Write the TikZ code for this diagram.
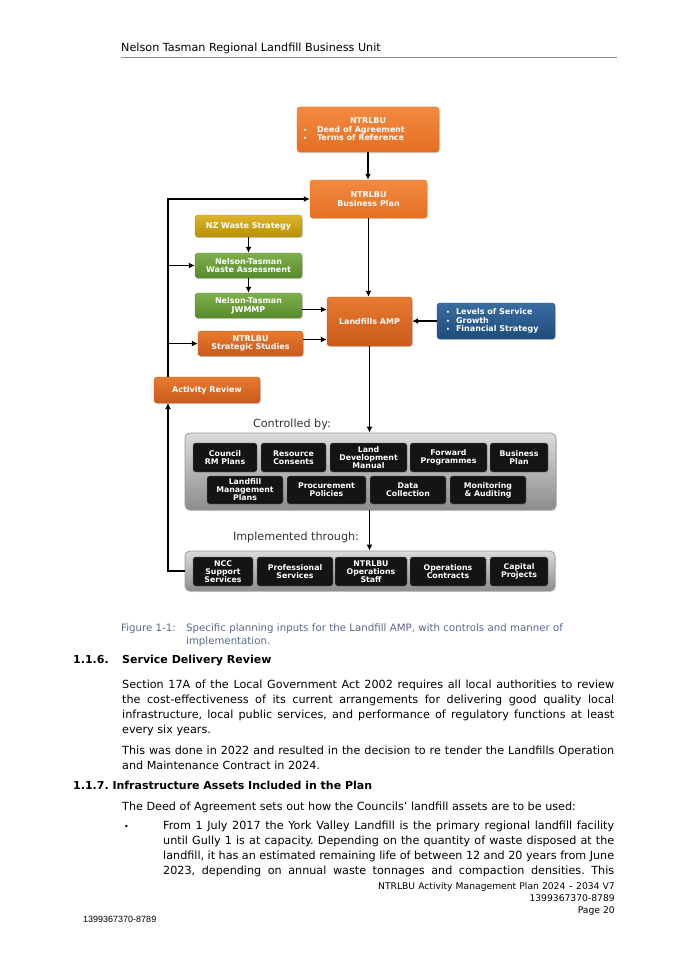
\documentclass[tikz,border=0pt]{standalone}
\usepackage{fontspec}
\setmainfont{DejaVu Sans}
\newfontfamily\arialfont{Liberation Sans}
\usepackage{xcolor}
\usetikzlibrary{arrows.meta}
\usetikzlibrary{shadows}
\usetikzlibrary{positioning}
\frenchspacing
\definecolor{OrangeTop}{HTML}{F28A40}
\definecolor{OrangeBot}{HTML}{E46F22}
\definecolor{RustTop}{HTML}{E87A30}
\definecolor{RustBot}{HTML}{C95A1A}
\definecolor{GoldTop}{HTML}{DDB52A}
\definecolor{GoldBot}{HTML}{B98F05}
\definecolor{GreenTop}{HTML}{80AE4C}
\definecolor{GreenBot}{HTML}{568A2C}
\definecolor{NavyTop}{HTML}{3A6DA0}
\definecolor{NavyBot}{HTML}{1F4C7A}
\definecolor{CaptionBlue}{HTML}{56698A}
\newcommand{\MyDot}[1]{\makebox[#1][l]{\fontsize{6}{6}\selectfont\textbullet}}
\tikzset{
  MyBox/.style={
    rectangle, rounded corners=3pt,
    align=center, inner sep=1pt,
    text=white, font=\fontsize{8}{8.6}\selectfont\bfseries,
    drop shadow={shadow xshift=0.8pt, shadow yshift=-1.2pt, opacity=0.35},
  },
  MyOrange/.style={MyBox, top color=OrangeTop, bottom color=OrangeBot, draw=OrangeBot},
  MyRust/.style={MyBox, top color=RustTop, bottom color=RustBot, draw=RustBot},
  MyGold/.style={MyBox, top color=GoldTop, bottom color=GoldBot, draw=GoldBot},
  MyGreen/.style={MyBox, top color=GreenTop, bottom color=GreenBot, draw=GreenBot},
  MyNavy/.style={MyBox, top color=NavyTop, bottom color=NavyBot, draw=NavyBot},
  MyBlack/.style={
    rectangle, rounded corners=2.5pt,
    align=center, inner sep=1pt,
    fill=black!92, draw=black!55,
    text=white, font=\fontsize{7.8}{8}\selectfont\bfseries,
  },
  MyPanel/.style={
    rectangle, rounded corners=5pt,
    top color=black!14, bottom color=black!45, draw=black!40, line width=0.8pt,
    drop shadow={shadow xshift=0.8pt, shadow yshift=-1.2pt, opacity=0.3},
  },
  MyArrow/.style={-{Latex[length=6pt,width=6pt]}, line width=1.5pt},
  MyText/.style={inner sep=0pt, font=\fontsize{11.2}{15}\selectfont},
}
\begin{document}
\begin{tikzpicture}[x=1pt,y=-1pt]
\useasboundingbox (0,0) rectangle (675,955);
\fill[white] (0,0) rectangle (675,955);
% page header
\node[MyText, anchor=base west] (HEAD) at (121,52) {Nelson Tasman Regional Landfill Business Unit};
\draw[black!45, line width=0.8pt] (121,57.5) -- (617,57.5);
% planning inputs
\node[MyOrange, minimum width=142pt, minimum height=45pt] (DEED) at (368,129.5) {NTRLBU\\\makebox[130pt][l]{\MyDot{14pt}Deed of Agreement}\\\makebox[130pt][l]{\MyDot{14pt}Terms of Reference}};
\node[MyOrange, minimum width=117pt, minimum height=38pt] (BP) at (368.5,199) {NTRLBU\\Business Plan};
\node[MyGold, minimum width=107pt, minimum height=22pt] (NZWS) at (248.5,226) {NZ Waste Strategy};
\node[MyGreen, minimum width=107pt, minimum height=25pt] (NTWA) at (248.5,265.5) {Nelson-Tasman\\Waste Assessment};
\node[MyGreen, minimum width=107pt, minimum height=25pt] (JWMMP) at (248.5,305.5) {Nelson-Tasman\\JWMMP};
\node[MyRust, minimum width=105pt, minimum height=25pt] (STUD) at (250.5,343.5) {NTRLBU\\Strategic Studies};
\node[MyRust, minimum width=85pt, minimum height=49pt] (AMP) at (369.5,321.5) {Landfills AMP};
\node[MyNavy, minimum width=118pt, minimum height=36pt] (LOS) at (496,321) {\makebox[100pt][l]{\MyDot{10pt}Levels of Service}\\\makebox[100pt][l]{\MyDot{10pt}Growth}\\\makebox[100pt][l]{\MyDot{10pt}Financial Strategy}};
\node[MyRust, minimum width=106pt, minimum height=26pt] (REVIEW) at (207,390) {Activity Review};
% controls
\node[text=black!80, font=\fontsize{11.2}{13}\selectfont, inner sep=0pt] (CTRLTXT) at (292,424) {Controlled by:};
\node[MyPanel, minimum width=371pt, minimum height=77pt] (CTRL) at (370.5,471.5) {};
\node[MyBlack, minimum width=64pt, minimum height=29pt] (RMP) at (225,457.5) {Council\\RM Plans};
\node[MyBlack, minimum width=65pt, minimum height=29pt] (RC) at (293.5,457.5) {Resource\\Consents};
\node[MyBlack, minimum width=77pt, minimum height=29pt] (LDM) at (368.5,457.5) {Land\\Development\\Manual};
\node[MyBlack, minimum width=77pt, minimum height=29pt] (FP) at (448.5,457.5) {Forward\\Programmes};
\node[MyBlack, minimum width=58pt, minimum height=29pt] (BPL) at (519,457.5) {Business\\Plan};
\node[MyBlack, minimum width=76pt, minimum height=28pt] (LMP) at (245,490) {Landfill\\Management\\Plans};
\node[MyBlack, minimum width=79pt, minimum height=28pt] (PP) at (326.5,490) {Procurement\\Policies};
\node[MyBlack, minimum width=76pt, minimum height=28pt] (DC) at (408,490) {Data\\Collection};
\node[MyBlack, minimum width=76pt, minimum height=28pt] (MA) at (488,490) {Monitoring\\\& Auditing};
% implementation
\node[text=black!80, font=\fontsize{11.2}{13}\selectfont, inner sep=0pt] (IMPLTXT) at (296,537) {Implemented through:};
\node[MyPanel, minimum width=370pt, minimum height=40pt] (IMPL) at (370,571) {};
\node[MyBlack, minimum width=60pt, minimum height=29pt] (NCC) at (223,571.5) {NCC\\Support\\Services};
\node[MyBlack, minimum width=76pt, minimum height=29pt] (PS) at (295,571.5) {Professional\\Services};
\node[MyBlack, minimum width=72pt, minimum height=29pt] (OS) at (371,571.5) {NTRLBU\\Operations\\Staff};
\node[MyBlack, minimum width=76pt, minimum height=29pt] (OC) at (448,571.5) {Operations\\Contracts};
\node[MyBlack, minimum width=58pt, minimum height=29pt] (CP) at (519,571.5) {Capital\\Projects};
% connectors
\coordinate (LB) at (168,571);
\coordinate (LT) at (168,199);
\draw[MyArrow] (DEED.south) to (DEED.south |- BP.north);
\draw[MyArrow] (BP.south) to (BP.south |- AMP.north);
\draw[MyArrow] (NZWS) to (NTWA);
\draw[MyArrow] (NTWA) to (JWMMP);
\draw[MyArrow] ([yshift=-4pt]JWMMP.east) to ([yshift=-4pt]JWMMP.east -| AMP.west);
\draw[MyArrow] ([yshift=4pt]STUD.east) to ([yshift=4pt]STUD.east -| AMP.west);
\draw[MyArrow] (LOS.west) to (LOS.west -| AMP.east);
\draw[MyArrow] (AMP.south) to (AMP.south |- CTRL.north);
\draw[MyArrow] (CTRL.south -| AMP) to (AMP |- IMPL.north);
\draw[MyArrow] (IMPL.west) -- (LB) -- (LB |- REVIEW.south);
\draw[MyArrow] (LB |- REVIEW.north) -- (LT) -- (BP.west);
\draw[MyArrow] (LT |- NTWA.west) to (NTWA.west);
\draw[MyArrow] (LT |- STUD.west) to (STUD.west);
% caption
\node[inner sep=0pt, anchor=base west, text width=492pt, align=left, text=CaptionBlue, font=\fontsize{10.2}{12.5}\selectfont] (CAP) at (121,631.5) {\makebox[65pt][l]{Figure 1-1:}Specific planning inputs for the Landfill AMP, with controls and manner of\\\hspace*{65pt}implementation.};
% body text
\node[MyText, anchor=base west, font=\fontsize{11}{13}\selectfont\bfseries] (H116) at (73,663) {\makebox[49pt][l]{1.1.6.}Service Delivery Review};
\node[MyText, anchor=base west, text width=492pt, align=justify] (PARA1) at (122,688) {Section 17A of the Local Government Act 2002 requires all local authorities to review\linebreak the cost-effectiveness of its current arrangements for delivering good quality local\linebreak infrastructure, local public services, and performance of regulatory functions at least\linebreak every six years.};
\node[MyText, anchor=base west, text width=492pt, align=justify] (PARA2) at (122,754) {This was done in 2022 and resulted in the decision to re tender the Landfills Operation\linebreak and Maintenance Contract in 2024.};
\node[MyText, anchor=base west, font=\fontsize{11}{13}\selectfont\bfseries] (H117) at (73,789) {1.1.7. Infrastructure Assets Included in the Plan};
\node[MyText, anchor=base west] (DEEDTXT) at (122,810) {The Deed of Agreement sets out how the Councils’ landfill assets are to be used:};
\node[inner sep=0pt, anchor=base west, font=\fontsize{8}{8}\selectfont] (DOT) at (124,829) {\textbullet};
\node[MyText, anchor=base west, text width=451pt, align=justify] (PARA3) at (163,829) {From 1 July 2017 the York Valley Landfill is the primary regional landfill facility\linebreak until Gully 1 is at capacity. Depending on the quantity of waste disposed at the\linebreak landfill, it has an estimated remaining life of between 12 and 20 years from June\linebreak 2023, depending on annual waste tonnages and compaction densities. This\parfillskip=0pt\par};
% page footer
\node[inner sep=0pt, anchor=base east, text width=300pt, align=right, font=\fontsize{9.2}{12}\selectfont] (FOOT) at (615,889) {NTRLBU Activity Management Plan 2024 – 2034 V7\\1399367370-8789\\Page 20};
\node[inner sep=0pt, anchor=base west, font=\arialfont\fontsize{9}{10}\selectfont] (DOCID) at (83,922) {1399367370-8789};
\end{tikzpicture}
\end{document}
